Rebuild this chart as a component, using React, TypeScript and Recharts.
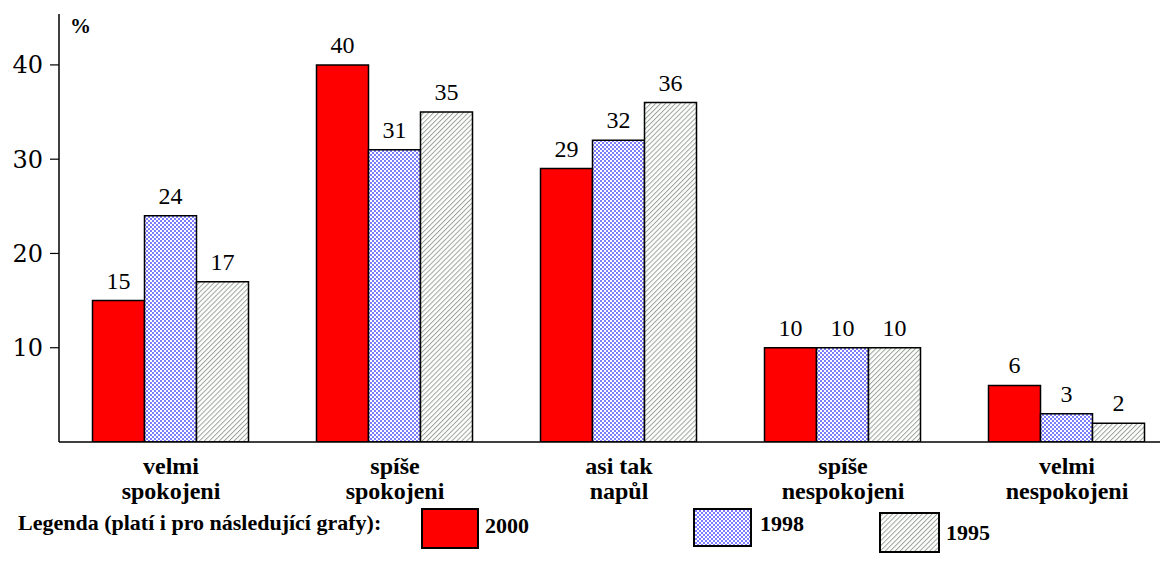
import React from "react"
import { Bar, BarChart, LabelList, Legend, XAxis, YAxis } from "recharts"

const categories = [
  ["velmi", "spokojeni"],
  ["spíše", "spokojeni"],
  ["asi tak", "napůl"],
  ["spíše", "nespokojeni"],
  ["velmi", "nespokojeni"],
]
const values2000 = [15, 40, 29, 10, 6]
const values1998 = [24, 31, 32, 10, 3]
const values1995 = [17, 35, 36, 10, 2]
const yTicks = [10, 20, 30, 40]

const chartData = categories.map((lines, i) => ({
  name: lines.join(" "),
  lines,
  y2000: values2000[i],
  y1998: values1998[i],
  y1995: values1995[i],
}))

const SERIF = "Liberation Serif"
const TICK_SERIF = "DejaVu Serif"

function Patterns({ suffix }: { suffix: string }) {
  return (
    <defs>
      <pattern id={`checker-${suffix}`} width="4" height="4" patternUnits="userSpaceOnUse">
        <rect width="4" height="4" fill="#ffffff" />
        <rect width="2" height="2" fill="#7c7cff" />
        <rect x="2" y="2" width="2" height="2" fill="#7c7cff" />
      </pattern>
      <pattern
        id={`hatch-${suffix}`}
        width="3.5"
        height="3.5"
        patternUnits="userSpaceOnUse"
        patternTransform="rotate(-45)"
      >
        <rect width="3.5" height="3.5" fill="#ffffff" />
        <rect width="3.5" height="1" fill="#9aa59a" />
      </pattern>
    </defs>
  )
}

function CategoryTick(props: any) {
  const { x, y, payload } = props
  const lines = categories[payload.index] ?? String(payload.value).split(" ")
  return (
    <g transform={`translate(${x},${y})`}>
      {lines.map((line: string, i: number) => (
        <text
          key={i}
          x={0}
          y={24 + i * 25}
          textAnchor="middle"
          fontFamily={SERIF}
          fontWeight="bold"
          fontSize={24}
          fill="#000"
        >
          {line}
        </text>
      ))}
    </g>
  )
}

function LegendBlock() {
  const box = (left: number, top: number, fill: string) => (
    <div
      style={{
        position: "absolute",
        left,
        top,
        width: 54,
        height: 37,
        border: "2px solid #000",
        background: fill,
      }}
    />
  )
  const label = (left: number, top: number, text: string) => (
    <span
      style={{
        position: "absolute",
        left,
        top,
        fontFamily: SERIF,
        fontWeight: "bold",
        fontSize: 22,
        lineHeight: "22px",
        color: "#000",
        whiteSpace: "nowrap",
      }}
    >
      {text}
    </span>
  )
  return (
    <div style={{ position: "relative", width: 1180, height: 64 }}>
      {label(10, 10, "Legenda (platí i pro následující grafy):")}
      {box(413, 6, "#ff0000")}
      {label(477, 13, "2000")}
      <svg style={{ position: "absolute", left: 685, top: 6 }} width={59} height={39}>
        <Patterns suffix="lg" />
        <rect x={1} y={1} width={57} height={37} fill="url(#checker-lg)" stroke="#000" strokeWidth={2} />
      </svg>
      {label(752, 11, "1998")}
      <svg style={{ position: "absolute", left: 871, top: 10 }} width={61} height={41}>
        <rect x={1} y={1} width={59} height={39} fill="url(#hatch-lg)" stroke="#000" strokeWidth={2} />
      </svg>
      {label(938, 20, "1995")}
    </div>
  )
}

function PercentLabel(props: any) {
  const { viewBox } = props
  return (
    <text
      x={viewBox.x + viewBox.width + 11}
      y={viewBox.y + 19}
      fontFamily={SERIF}
      fontWeight="bold"
      fontSize={21}
      fill="#000"
    >
      %
    </text>
  )
}

const labelStyle = { fontFamily: SERIF, fontSize: 24, fill: "#000" }

export default function App() {
  return (
    <div style={{ width: 1160, height: 558, overflow: "hidden" }}>
      <BarChart
        width={1180}
        height={558}
        data={chartData}
        margin={{ top: 6, right: 9, bottom: 0, left: 0 }}
        barCategoryGap={33.5}
        barGap={0}
      >
        <Patterns suffix="bar" />
        <XAxis
          dataKey="name"
          height={60}
          tick={<CategoryTick />}
          tickLine={false}
          axisLine={{ stroke: "#000", strokeWidth: 1.5 }}
          interval={0}
        />
        <YAxis
          width={51}
          domain={[0, 45.4]}
          ticks={yTicks}
          allowDataOverflow
          axisLine={{ stroke: "#000", strokeWidth: 1.5 }}
          tickLine={{ stroke: "#000", strokeWidth: 1.2 }}
          tickSize={9}
          tickMargin={7}
          tick={{ fill: "#000", fontFamily: TICK_SERIF, fontSize: 24 }}
          label={<PercentLabel />}
        />
        <Legend
          verticalAlign="bottom"
          align="left"
          content={() => <LegendBlock />}
          wrapperStyle={{ width: 1180, height: 64 }}
        />
        <Bar dataKey="y2000" fill="#ff0000" stroke="#000" strokeWidth={1.5} isAnimationActive={false}>
          <LabelList dataKey="y2000" position="top" offset={12} style={labelStyle} />
        </Bar>
        <Bar dataKey="y1998" fill="url(#checker-bar)" stroke="#000" strokeWidth={1.5} isAnimationActive={false}>
          <LabelList dataKey="y1998" position="top" offset={12} style={labelStyle} />
        </Bar>
        <Bar dataKey="y1995" fill="url(#hatch-bar)" stroke="#000" strokeWidth={1.5} isAnimationActive={false}>
          <LabelList dataKey="y1995" position="top" offset={12} style={labelStyle} />
        </Bar>
      </BarChart>
    </div>
  )
}
